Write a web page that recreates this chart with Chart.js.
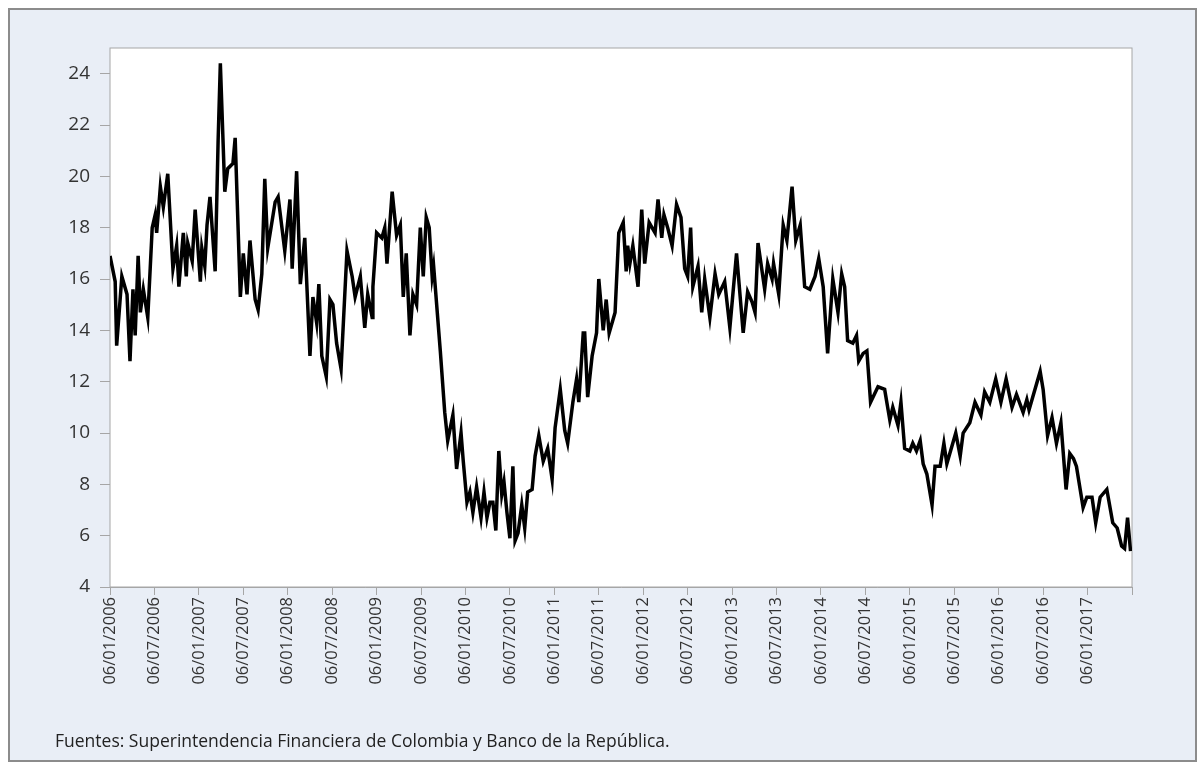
<!DOCTYPE html>
<html>
<head>
<meta charset="utf-8">
<script src="https://cdn.jsdelivr.net/npm/chart.js@4/dist/chart.umd.min.js"></script>
<style>
  body { margin: 0; background: #fff; }
  #frame { position: absolute; left: 8px; top: 8px; width: 1185px; height: 750px; background: #e9eef6; border: 2px solid #8c8c8c; }
  #wrap { position: absolute; left: 0; top: 0; width: 1199px; height: 764px; }
  #note { position: absolute; left: 55px; top: 728px; font: 17.5px "Open Sans", sans-serif; color: #222; }
</style>
</head>
<body>
<div id="frame"></div>
<div id="wrap"><canvas id="chart"></canvas></div>
<div id="note">Fuentes: Superintendencia Financiera de Colombia y Banco de la República.</div>
<script>
'use strict';
// months since 06/01/2006
var months = [0, 0.7, 0.9, 1.6, 2.3, 2.7, 3.1, 3.4, 3.8, 4.1, 4.5, 5.1, 5.7, 6.1, 6.3, 6.8, 7.2, 7.8, 8.5, 9.0,
  9.3, 9.9, 10.3, 10.5, 11.1, 11.5, 12.2, 12.4, 12.8, 13.1, 13.5, 14.2, 14.6, 14.9, 15.5, 15.9, 16.6, 16.9, 17.6, 18.0,
  18.5, 18.9, 19.6, 20.0, 20.5, 20.9, 21.3, 22.3, 22.7, 23.6, 24.3, 24.6, 25.2, 25.7, 26.3, 27.0, 27.4, 27.9, 28.2, 28.6,
  29.2, 29.7, 30.1, 30.6, 31.2, 32.0, 32.7, 33.1, 33.8, 34.4, 34.8, 35.4, 35.5, 36.0, 36.7, 37.1, 37.4, 38.1, 38.7, 39.2,
  39.6, 40.0, 40.5, 40.9, 41.4, 41.9, 42.3, 42.7, 43.1, 43.5, 43.7, 44.6, 45.2, 45.6, 46.3, 46.8, 47.4, 47.7, 48.2, 48.6,
  49.0, 49.5, 50.1, 50.5, 50.9, 51.3, 51.7, 52.1, 52.5, 52.9, 53.2, 53.6, 54.0, 54.4, 54.7, 55.1, 55.6, 56.0, 56.4, 57.0,
  57.4, 57.9, 58.5, 59.1, 59.7, 60.1, 60.8, 61.4, 61.8, 62.5, 63.0, 63.3, 63.9, 64.1, 64.5, 65.1, 65.7, 66.0, 66.6, 67.0,
  67.4, 68.2, 68.7, 69.3, 69.7, 69.9, 70.2, 70.6, 71.3, 71.8, 72.2, 72.8, 73.6, 74.0, 74.5, 74.8, 75.3, 75.9, 76.5, 77.1,
  77.6, 78.0, 78.4, 78.7, 79.4, 79.9, 80.3, 81.0, 81.7, 82.2, 83.0, 83.7, 84.6, 85.5, 86.1, 86.7, 87.1, 87.5, 88.4, 88.8,
  89.4, 89.6, 90.3, 90.9, 91.4, 92.1, 92.6, 93.2, 93.8, 94.5, 95.2, 95.7, 96.3, 96.9, 97.6, 98.3, 98.8, 99.2, 99.6, 100.3,
  100.8, 101.1, 101.7, 102.2, 102.7, 103.7, 104.6, 105.3, 105.7, 106.4, 106.8, 107.3, 108.0, 108.4, 108.9, 109.4, 109.8, 110.3, 111.0, 111.4,
  112.1, 112.6, 113.0, 113.8, 114.2, 114.8, 115.2, 116.1, 116.8, 117.6, 118.1, 118.8, 119.6, 120.3, 121.0, 121.8, 122.4, 123.3, 123.8, 124.1,
  124.6, 125.6, 126.0, 126.6, 127.2, 127.8, 128.4, 129.1, 129.6, 130.1, 130.5, 131.4, 131.9, 132.6, 133.1, 133.7, 134.6, 135.4, 136.0, 136.6,
  137.0, 137.4, 137.8];
var values = [16.9, 15.9, 13.4, 16.1, 15.4, 12.8, 15.6, 13.8, 16.9, 14.7, 15.6, 14.5, 18, 18.5, 17.8, 19.6, 18.8, 20.1, 16.4, 17.3,
  15.7, 17.8, 16.1, 17.4, 16.7, 18.7, 15.9, 17.2, 16.5, 18.1, 19.2, 16.3, 21.4, 24.4, 19.4, 20.3, 20.5, 21.5, 15.3, 17,
  15.4, 17.5, 15.2, 14.8, 16.2, 19.9, 17.2, 19, 19.2, 17.1, 19.1, 16.4, 20.2, 15.8, 17.6, 13, 15.3, 14.3, 15.8, 13,
  12.2, 15.2, 15, 13.5, 12.5, 17.1, 16.1, 15.3, 16.1, 14.1, 15.4, 14.5, 15.7, 17.8, 17.6, 18, 16.6, 19.4, 17.7, 18.1,
  15.3, 17, 13.8, 15.4, 15, 18, 16.1, 18.4, 18, 16.1, 16.5, 13.2, 10.8, 9.7, 10.7, 8.6, 10, 8.9, 7.3, 7.7,
  6.9, 7.9, 6.7, 7.7, 6.7, 7.3, 7.3, 6.2, 9.3, 7.6, 8.1, 6.9, 5.9, 8.7, 5.8, 6.1, 7.2, 6.3, 7.7, 7.8,
  9.1, 9.9, 8.9, 9.4, 8.2, 10.2, 11.7, 10.1, 9.6, 11.2, 12.1, 11.2, 13.9, 13.9, 11.4, 13, 13.9, 16, 14, 15.2,
  13.9, 14.7, 17.8, 18.2, 16.3, 17.3, 16.6, 17.3, 15.7, 18.7, 16.6, 18.2, 17.8, 19.1, 17.6, 18.5, 18, 17.3, 18.9, 18.4,
  16.4, 16.1, 18, 15.7, 16.5, 14.7, 16, 14.5, 16.2, 15.4, 15.9, 14.1, 17, 13.9, 15.5, 15.1, 14.7, 17.4, 15.6, 16.6,
  16, 16.6, 15.4, 18.1, 17.5, 19.6, 17.5, 18.1, 15.7, 15.6, 16.1, 16.8, 15.7, 13.1, 16, 14.7, 16.2, 15.7, 13.6, 13.5,
  13.8, 12.8, 13.1, 13.2, 11.2, 11.8, 11.7, 10.5, 11, 10.3, 11.2, 9.4, 9.3, 9.6, 9.3, 9.7, 8.8, 8.4, 7.2, 8.7,
  8.7, 9.6, 8.8, 9.6, 10, 9.1, 10, 10.4, 11.2, 10.7, 11.6, 11.2, 12.1, 11.2, 12.1, 11, 11.5, 10.8, 11.3, 10.9,
  11.4, 12.4, 11.7, 9.9, 10.6, 9.6, 10.4, 7.8, 9.2, 9, 8.7, 7.1, 7.5, 7.5, 6.5, 7.5, 7.8, 6.5, 6.3, 5.6,
  5.5, 6.7, 5.4];
var tickLabels = ['06/01/2006', '06/07/2006', '06/01/2007', '06/07/2007', '06/01/2008', '06/07/2008',
  '06/01/2009', '06/07/2009', '06/01/2010', '06/07/2010', '06/01/2011', '06/07/2011', '06/01/2012',
  '06/07/2012', '06/01/2013', '06/07/2013', '06/01/2014', '06/07/2014', '06/01/2015', '06/07/2015',
  '06/01/2016', '06/07/2016', '06/01/2017'];

var points = [];
for (var i = 0; i < months.length; i++) {
  points.push({x: months[i], y: values[i]});
}

var plotBox = {
  id: 'plotBox',
  beforeDatasetsDraw: function(chart) {
    var a = chart.chartArea, c = chart.ctx;
    c.save();
    c.fillStyle = '#fff';
    c.fillRect(a.left, a.top, a.width, a.height);
    c.strokeStyle = '#a6a6a6';
    c.lineWidth = 1;
    c.strokeRect(a.left, a.top, a.width, a.height);
    c.restore();
  }
};

new Chart(document.getElementById('chart'), {
  type: 'line',
  data: {
    datasets: [{
      data: points,
      borderColor: '#000',
      borderWidth: 3.5,
      pointRadius: 0,
      tension: 0
    }]
  },
  options: {
    responsive: true,
    maintainAspectRatio: false,
    animation: false,
    layout: {padding: {left: 0, top: 48, right: 67, bottom: 0}},
    plugins: {legend: {display: false}, tooltip: {enabled: false}},
    scales: {
      x: {
        type: 'linear',
        min: 0,
        max: 138,
        afterFit: function(s) { s.height = 177; },
        border: {color: '#a6a6a6'},
        grid: {drawOnChartArea: false, tickLength: 8, color: '#a6a6a6'},
        ticks: {
          stepSize: 6,
          autoSkip: false,
          minRotation: 90,
          maxRotation: 90,
          color: '#333',
          font: {family: 'Open Sans', size: 16.5},
          padding: 2,
          callback: function(v) {
            var k = Math.round(v / 6);
            return tickLabels[k] || '';
          }
        }
      },
      y: {
        min: 4,
        max: 25,
        afterFit: function(s) { s.width = 110; },
        afterBuildTicks: function(s) {
          s.ticks = s.ticks.filter(function(t) { return t.value % 2 === 0; });
        },
        border: {color: '#a6a6a6'},
        grid: {drawOnChartArea: false, tickLength: 10, color: '#a6a6a6'},
        ticks: {stepSize: 2, color: '#333', font: {family: 'Open Sans', size: 19}, padding: 10}
      }
    }
  },
  plugins: [plotBox]
});
</script>
</body>
</html>
